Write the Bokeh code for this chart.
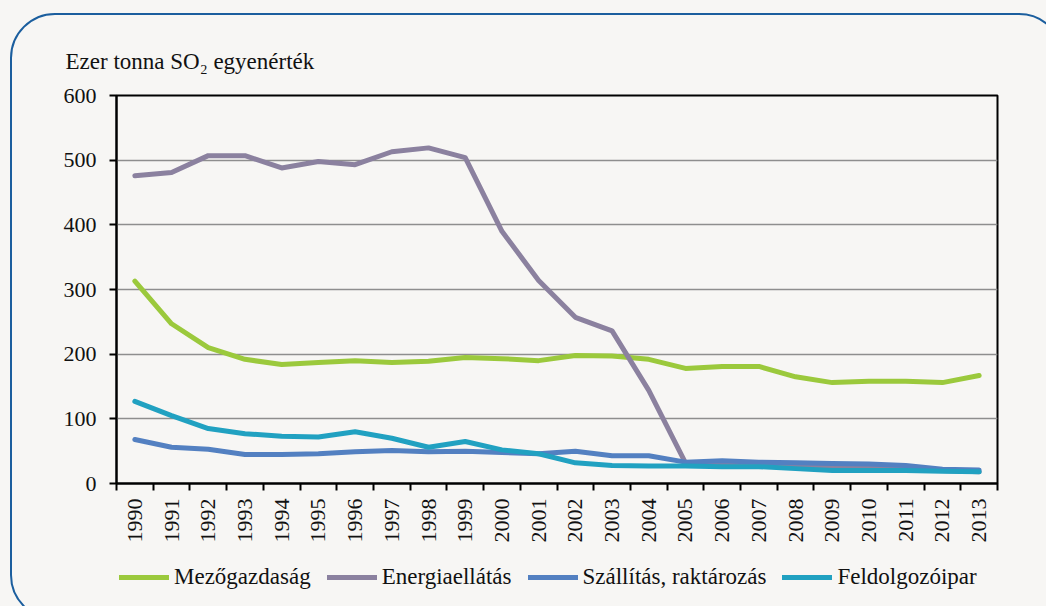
import math
from bokeh.plotting import figure
from bokeh.layouts import column
from bokeh.models import (FixedTicker, Legend, LegendItem, ColumnDataSource, Range1d,
                          InlineStyleSheet)
from bokeh.embed import file_html
from bokeh.resources import INLINE

years = ["1990", "1991", "1992", "1993", "1994", "1995", "1996", "1997", "1998", "1999",
         "2000", "2001", "2002", "2003", "2004", "2005", "2006", "2007", "2008", "2009",
         "2010", "2011", "2012", "2013"]
mezogazdasag = [313, 247, 210, 192, 184, 187, 190, 187, 189, 195, 193, 190, 198, 197, 192,
                178, 181, 181, 165, 156, 158, 158, 156, 167]
energiaellatas = [476, 481, 507, 507, 488, 498, 493, 513, 519, 504, 390, 314, 257, 236, 144,
                  32, 31, 29, 27, 25, 24, 22, 20, 18]
szallitas = [68, 56, 53, 45, 45, 46, 49, 51, 49, 50, 48, 46, 50, 43, 43, 33, 35, 33, 32, 31,
             30, 28, 22, 21]
feldolgozoipar = [127, 105, 85, 77, 73, 72, 80, 70, 56, 65, 52, 46, 32, 28, 27, 27, 26, 26,
                  23, 20, 20, 20, 19, 18]
series_names = ["Mezőgazdaság", "Energiaellátás", "Szállítás, raktározás", "Feldolgozóipar"]
series_colors = ["#9bc93c", "#8b819f", "#5380c1", "#21a1c1"]
y_ticks = [0, 100, 200, 300, 400, 500, 600]
title_text = "Ezer tonna SO₂ egyenérték"

FONT = "Liberation Serif"
BG = "#f7f6f4"
TXT = "#111111"

xs = list(range(len(years)))
src = ColumnDataSource(dict(x=xs, m=mezogazdasag, e=energiaellatas, s=szallitas, f=feldolgozoipar))
cols = ["m", "e", "s", "f"]

# ---------------- main chart ----------------
p = figure(width=1046, height=550, output_backend="svg", toolbar_location=None,
           x_range=Range1d(-0.5, len(years) - 0.5), y_range=Range1d(0, 600),
           min_border_left=116, min_border_right=49, min_border_top=95, min_border_bottom=67)
p.background_fill_color = BG
p.border_fill_color = BG
p.outline_line_color = "black"
p.outline_line_width = 2

for col, color in zip(cols, series_colors):
    p.line("x", col, source=src, line_color=color, line_width=5,
           line_cap="round", line_join="round")

p.title.text = title_text
p.title.text_font = FONT
p.title.text_font_size = "23px"
p.title.text_font_style = "normal"
p.title.text_color = TXT
p.title.align = "left"
p.title.offset = -51
p.title.standoff = 43

p.xaxis.ticker = FixedTicker(ticks=xs, minor_ticks=[i - 0.5 for i in range(len(years) + 1)])
p.xaxis.major_label_overrides = {i: y for i, y in enumerate(years)}
p.xaxis.major_label_orientation = math.pi / 2
p.xaxis.major_tick_out = 0
p.xaxis.major_tick_in = 0
p.xaxis.minor_tick_out = 7
p.xaxis.minor_tick_in = 0
p.xaxis.minor_tick_line_color = "black"
p.xaxis.minor_tick_line_width = 2
p.xaxis.major_label_standoff = 8
p.xaxis.axis_line_width = 2
p.xaxis.axis_line_color = "black"
p.xaxis.major_label_text_font = FONT
p.xaxis.major_label_text_font_size = "22px"
p.xaxis.major_label_text_color = TXT

p.yaxis.ticker = FixedTicker(ticks=y_ticks)
p.yaxis.major_tick_out = 7
p.yaxis.major_tick_in = 0
p.yaxis.minor_tick_line_color = None
p.yaxis.major_tick_line_width = 2
p.yaxis.major_tick_line_color = "black"
p.yaxis.axis_line_width = 2
p.yaxis.axis_line_color = "black"
p.yaxis.major_label_standoff = 13
p.yaxis.major_label_text_font = FONT
p.yaxis.major_label_text_font_size = "22px"
p.yaxis.major_label_text_color = TXT

p.xgrid.grid_line_color = None
p.ygrid.ticker = FixedTicker(ticks=y_ticks[1:-1])
p.ygrid.grid_line_color = "#8e8e8e"
p.ygrid.grid_line_width = 1.5

# ---------------- legend strip ----------------
lg = figure(width=1046, height=56, output_backend="svg", toolbar_location=None,
            x_range=Range1d(-0.5, len(years) - 0.5), y_range=Range1d(1000, 1001),
            x_axis_type=None, y_axis_type=None,
            min_border_left=0, min_border_right=0, min_border_top=0, min_border_bottom=0)
lg.background_fill_color = BG
lg.border_fill_color = BG
lg.outline_line_color = None
lg.grid.grid_line_color = None
leg_renderers = []
for col, color in zip(cols, series_colors):
    leg_renderers.append(lg.line("x", col, source=src, line_color=color, line_width=5,
                                 line_cap="round"))
legend = Legend(items=[LegendItem(label=n, renderers=[r]) for n, r in zip(series_names, leg_renderers)],
                orientation="horizontal", location=(3, 16),
                glyph_width=50, glyph_height=24, label_standoff=5, spacing=16,
                padding=0, margin=0, border_line_color=None,
                background_fill_alpha=0,
                label_text_font=FONT, label_text_font_size="23px",
                label_text_color=TXT)
lg.add_layout(legend, "center")

layout = column(p, lg, spacing=0)
layout.stylesheets = [InlineStyleSheet(css="""
:host { position: relative; overflow: hidden; background: #f7f6f4; }
:host::after {
  content: ''; position: absolute; left: 10px; top: 13px;
  width: 1054px; height: 607px; box-sizing: border-box;
  border: 2.5px solid #1b5e9e; border-radius: 45px;
  pointer-events: none; z-index: 10;
}
""")]

open("out.html", "w").write(file_html(layout, INLINE))
